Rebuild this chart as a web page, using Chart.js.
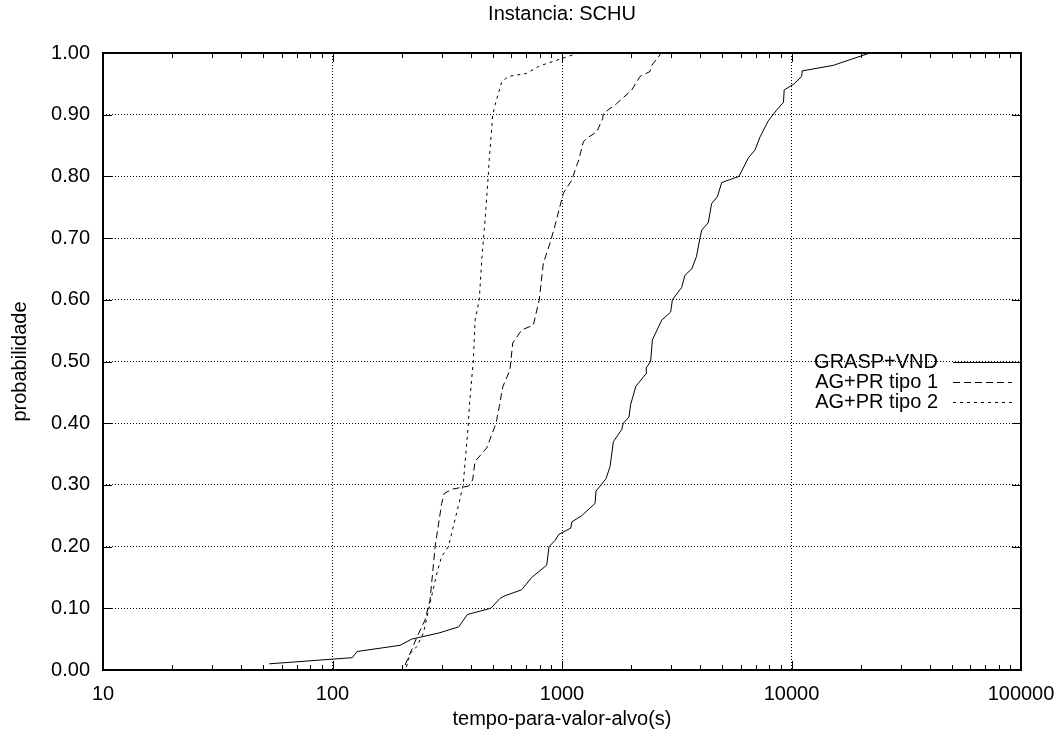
<!DOCTYPE html>
<html>
<head>
<meta charset="utf-8">
<script src="https://cdn.jsdelivr.net/npm/chart.js@4/dist/chart.umd.min.js"></script>
<style>
  body { margin: 0; background: #fff; }
  canvas { display: block; }
</style>
</head>
<body>
<canvas id="tttChart" width="1061" height="734"></canvas>
<script>
// time-to-target plot, instance SCHU
const seriesNames = ['GRASP+VND', 'AG+PR tipo 1', 'AG+PR tipo 2'];

const graspTime = [53, 122, 128, 197, 221, 291, 355, 387, 489, 537, 561, 667, 738, 858, 878, 933, 970, 1092, 1103, 1218,
  1393, 1407, 1555, 1620, 1674, 1822, 1849, 1958, 1991, 2099, 2323, 2330, 2433, 2477, 2719, 2973, 3027, 3321, 3436, 3675,
  3854, 3991, 4064, 4339, 4487, 4753, 4965, 5902, 6486, 6939, 7295, 7920, 8630, 9228, 9290, 10260, 11070, 11140, 15210, 18270, 21980];
const graspProb = [0.01, 0.02, 0.03, 0.04, 0.05, 0.06, 0.07, 0.09, 0.10, 0.116, 0.12, 0.13, 0.15, 0.17, 0.20, 0.21, 0.22, 0.23, 0.24, 0.25,
  0.27, 0.29, 0.31, 0.33, 0.37, 0.39, 0.40, 0.41, 0.43, 0.46, 0.48, 0.49, 0.50, 0.535, 0.567, 0.58, 0.60, 0.62, 0.64, 0.65,
  0.67, 0.70, 0.713, 0.725, 0.756, 0.767, 0.79, 0.80, 0.83, 0.843, 0.864, 0.89, 0.908, 0.92, 0.94, 0.95, 0.962, 0.971, 0.98, 0.99, 1.0];

const tipo1Time = [207, 218, 233, 253, 266, 280, 299, 307, 331, 391, 408, 418, 470, 516, 533, 552, 593, 610, 667, 750,
  796, 829, 887, 933, 1014, 1103, 1159, 1178, 1239, 1282, 1417, 1504, 1514, 1730, 2013, 2188, 2418, 2460, 2673, 2700];
const tipo1Prob = [0.008, 0.027, 0.053, 0.081, 0.113, 0.20, 0.27, 0.286, 0.293, 0.298, 0.308, 0.338, 0.36, 0.40, 0.427, 0.459, 0.486, 0.53, 0.551, 0.559,
  0.60, 0.659, 0.692, 0.721, 0.773, 0.794, 0.818, 0.824, 0.856, 0.862, 0.872, 0.894, 0.902, 0.918, 0.94, 0.962, 0.97, 0.98, 0.997, 1.0];

const tipo2Time = [210, 218, 233, 249, 266, 285, 299, 320, 353, 371, 391, 395, 411, 418, 436, 447, 462, 477, 482, 499,
  511, 546, 583, 702, 789, 858, 997, 1178];
const tipo2Prob = [0.005, 0.027, 0.038, 0.06, 0.108, 0.157, 0.184, 0.20, 0.265, 0.30, 0.40, 0.43, 0.502, 0.567, 0.60, 0.665, 0.729, 0.80, 0.827, 0.90,
  0.916, 0.953, 0.962, 0.967, 0.978, 0.983, 0.991, 1.0];

const xDecades = [10, 100, 1000, 10000, 100000];
const yTicks = [0, 0.1, 0.2, 0.3, 0.4, 0.5, 0.6, 0.7, 0.8, 0.9, 1.0];

const FONT = '"Liberation Sans", Arial, Helvetica, sans-serif';

function toPoints(times, probs) {
  return times.map((t, i) => ({ x: t, y: probs[i] }));
}

function isDecade(v) {
  const e = Math.log10(v);
  return Math.abs(e - Math.round(e)) < 1e-9;
}

// box, inward ticks, title, axis titles and legend in gnuplot style
const gnuplotFrame = {
  id: 'gnuplotFrame',
  afterDatasetsDraw(chart) {
    const { ctx, chartArea: a, scales } = chart;
    const xs = scales.x, ys = scales.y;
    ctx.save();
    ctx.strokeStyle = '#000';
    ctx.lineWidth = 1;
    ctx.setLineDash([]);
    ctx.beginPath();
    // y ticks, left and right
    yTicks.forEach((v) => {
      const py = Math.round(ys.getPixelForValue(v)) + 0.5;
      ctx.moveTo(a.left, py); ctx.lineTo(a.left + 9, py);
      ctx.moveTo(a.right, py); ctx.lineTo(a.right - 9, py);
    });
    // x ticks, bottom and top (major + minor)
    for (let d = 0; d < xDecades.length - 1; d++) {
      for (let k = 1; k < 10; k++) {
        const v = xDecades[d] * k;
        const px = Math.round(xs.getPixelForValue(v)) + 0.5;
        const len = k === 1 ? 9 : 5;
        ctx.moveTo(px, a.bottom); ctx.lineTo(px, a.bottom - len);
        ctx.moveTo(px, a.top); ctx.lineTo(px, a.top + len);
      }
    }
    ctx.stroke();
    // plot border
    ctx.lineWidth = 2;
    ctx.strokeRect(a.left, a.top, a.right - a.left, a.bottom - a.top);

    // legend
    ctx.font = '20px ' + FONT;
    ctx.fillStyle = '#000';
    ctx.textAlign = 'right';
    ctx.textBaseline = 'middle';
    chart.data.datasets.forEach((ds, i) => {
      const ly = a.top + 309 + i * 20;
      ctx.fillText(ds.label, a.right - 83, ly);
      ctx.lineWidth = 1;
      ctx.setLineDash(ds.borderDash || []);
      ctx.beginPath();
      ctx.moveTo(a.right - 68, ly + 0.5);
      ctx.lineTo(a.right - 9, ly + 0.5);
      ctx.stroke();
    });
    ctx.setLineDash([]);

    // titles
    ctx.textAlign = 'center';
    ctx.fillText('Instancia: SCHU', (a.left + a.right) / 2, a.top - 39);
    ctx.fillText('tempo-para-valor-alvo(s)', (a.left + a.right) / 2, a.bottom + 49);
    ctx.translate(20, (a.top + a.bottom) / 2);
    ctx.rotate(-Math.PI / 2);
    ctx.fillText('probabilidade', 0, 0);
    ctx.restore();
  }
};

new Chart(document.getElementById('tttChart'), {
  type: 'line',
  data: {
    datasets: [
      {
        label: seriesNames[0],
        data: toPoints(graspTime, graspProb),
        borderColor: '#000',
        borderWidth: 1,
        borderDash: []
      },
      {
        label: seriesNames[1],
        data: toPoints(tipo1Time, tipo1Prob),
        borderColor: '#000',
        borderWidth: 1,
        borderDash: [7, 4]
      },
      {
        label: seriesNames[2],
        data: toPoints(tipo2Time, tipo2Prob),
        borderColor: '#000',
        borderWidth: 1,
        borderDash: [3, 4]
      }
    ]
  },
  options: {
    responsive: false,
    animation: false,
    devicePixelRatio: 1,
    layout: { padding: { top: 53, right: 40, left: 0, bottom: 0 } },
    elements: { point: { radius: 0 }, line: { tension: 0 } },
    plugins: {
      legend: { display: false },
      tooltip: { enabled: false },
      title: { display: false }
    },
    scales: {
      x: {
        type: 'logarithmic',
        min: 10,
        max: 100000,
        afterFit: (scale) => {
          scale.height = 64;
          scale.paddingLeft = 0;
          scale.paddingRight = 0;
        },
        border: { display: false, dash: [1, 2] },
        grid: {
          drawTicks: false,
          lineWidth: 1,
          color: (c) => (c.tick && isDecade(c.tick.value) ? '#000' : 'rgba(0,0,0,0)')
        },
        ticks: {
          autoSkip: false,
          maxRotation: 0,
          padding: 12,
          color: '#000',
          font: { family: FONT, size: 20 },
          callback: (v) => (isDecade(v) ? String(v) : '')
        }
      },
      y: {
        min: 0,
        max: 1,
        afterFit: (scale) => {
          scale.width = 103;
          scale.paddingTop = 0;
          scale.paddingBottom = 0;
        },
        border: { display: false, dash: [1, 2] },
        grid: { drawTicks: false, lineWidth: 1, color: '#000' },
        ticks: {
          stepSize: 0.1,
          padding: 13,
          color: '#000',
          font: { family: FONT, size: 20 },
          callback: (v) => v.toFixed(2)
        }
      }
    }
  },
  plugins: [gnuplotFrame]
});
</script>
</body>
</html>
